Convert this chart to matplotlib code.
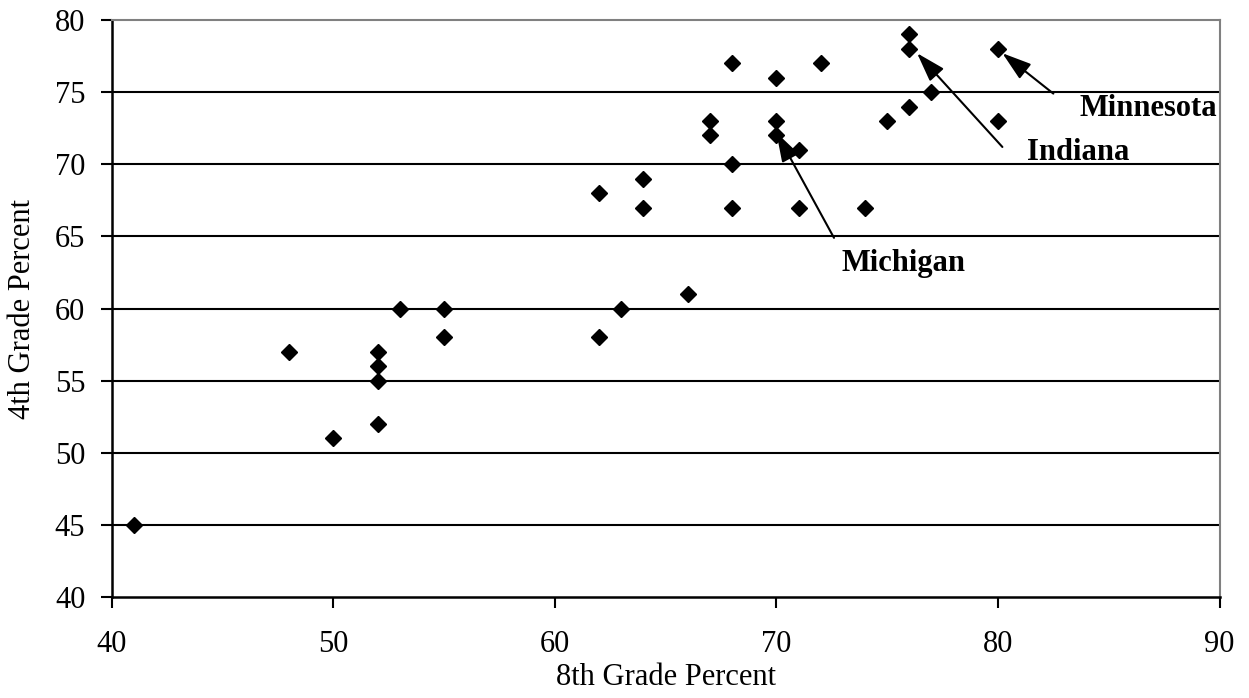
import matplotlib
matplotlib.use("Agg")
import matplotlib.pyplot as plt

# 8th grade vs 4th grade percent, one point per state
grade8 = [41, 48, 50, 52, 52, 52, 52, 53, 55, 55, 62, 62, 63, 64, 64, 66,
          67, 67, 68, 68, 68, 70, 70, 70, 71, 71, 72, 74, 75, 76, 76, 76,
          77, 80, 80]
grade4 = [45, 57, 51, 57, 56, 55, 52, 60, 60, 58, 68, 58, 60, 69, 67, 61,
          73, 72, 77, 70, 67, 76, 73, 72, 71, 67, 77, 67, 73, 79, 78, 74,
          75, 78, 73]

# labelled states: arrow tip, arrow tail, label position
states = ["Minnesota", "Indiana", "Michigan"]
tips = [(80.2, 77.7), (76.35, 77.7), (70.0, 72.2)]
tails = [(82.5, 74.9), (80.2, 71.2), (72.6, 64.9)]
label_pos = [(83.7, 73.9), (81.3, 70.8), (72.95, 63.15)]

plt.rcParams['font.family'] = ['Liberation Serif', 'DejaVu Serif']

fig = plt.figure(figsize=(12.49, 6.98), dpi=100)
ax = fig.add_axes([0.0894, 0.1447, 0.8870, 0.8266])

for y in range(45, 80, 5):
    ax.axhline(y, color='black', lw=1.5, zorder=1)

ax.plot(grade8, grade4, linestyle='none', marker='D', markersize=8,
        color='black', zorder=3)

for name, tip, tail, pos in zip(states, tips, tails, label_pos):
    ax.annotate('', xy=tip, xytext=tail,
                arrowprops=dict(arrowstyle='-|>,head_length=0.5,head_width=0.16',
                                color='black', lw=1.5, mutation_scale=36,
                                shrinkA=0, shrinkB=0),
                zorder=4)
    ax.text(pos[0], pos[1], name, fontsize=22, fontweight='bold',
            ha='left', va='center', zorder=5)

ax.set_xlim(40, 90)
ax.set_ylim(40, 80)
ax.set_xticks(range(40, 91, 10))
ax.set_yticks(range(40, 81, 5))

for side in ['left', 'bottom']:
    ax.spines[side].set_color('black')
    ax.spines[side].set_linewidth(1.8)
for side in ['top', 'right']:
    ax.spines[side].set_color('#808080')
    ax.spines[side].set_linewidth(1.5)

ax.tick_params(axis='both', direction='out', length=8, width=1.5,
               labelsize=22, colors='black')
ax.tick_params(axis='y', pad=11)
ax.tick_params(axis='x', pad=16)

ax.set_xlabel('8th Grade Percent', fontsize=22)
ax.set_ylabel('4th Grade Percent', fontsize=22)
ax.xaxis.label.set_verticalalignment('center')
ax.yaxis.label.set_verticalalignment('center')
ax.xaxis.set_label_coords(0.5, -0.139)
ax.yaxis.set_label_coords(-0.0805, 0.5)

fig.savefig('out.png', dpi=100)
